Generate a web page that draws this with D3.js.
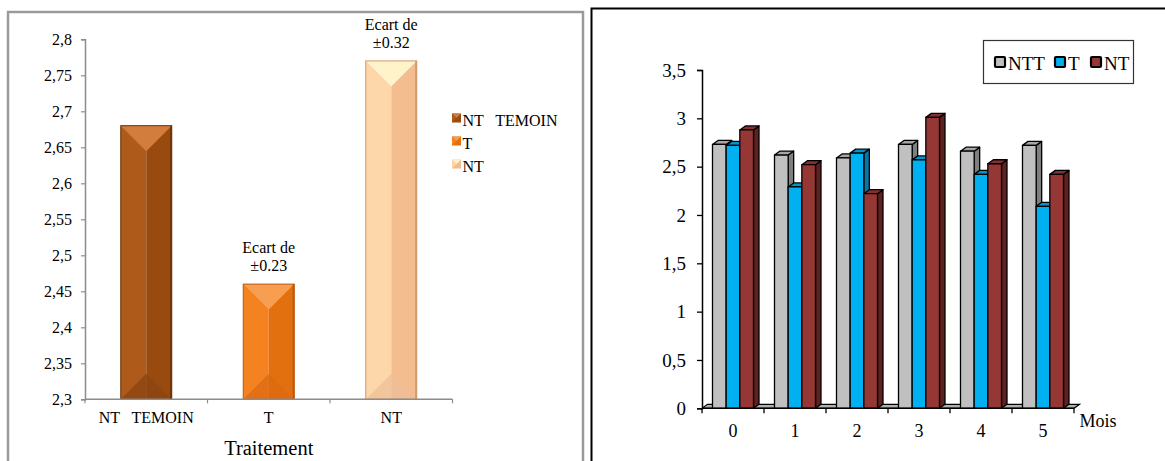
<!DOCTYPE html>
<html>
<head>
<meta charset="utf-8">
<script src="https://cdn.jsdelivr.net/npm/d3@7"></script>
<style>
  html, body { margin: 0; padding: 0; background: #fff; }
  svg { display: block; }
  svg text { font-family: "Liberation Serif", "Times New Roman", serif; fill: #000; }
</style>
</head>
<body>
<svg id="chart" width="1165" height="461"></svg>
<script>
// ---- Left panel: mean value per treatment ----
const treatLabels = ["NT   TEMOIN", "T", "NT"];
const treatValues = [2.68, 2.46, 2.77];
const treatDeviation = [null, "±0.23", "±0.32"];
const treatTicks = [2.3, 2.35, 2.4, 2.45, 2.5, 2.55, 2.6, 2.65, 2.7, 2.75, 2.8];

// ---- Right panel: monthly values for three treatments ----
const months = ["0", "1", "2", "3", "4", "5"];
const seriesNames = ["NTT", "T", "NT"];
const nttValues = [2.73, 2.62, 2.59, 2.73, 2.66, 2.72];
const tValues = [2.72, 2.29, 2.64, 2.57, 2.42, 2.09];
const ntValues = [2.88, 2.52, 2.22, 3.01, 2.53, 2.42];
const monthTicks = [0, 0.5, 1, 1.5, 2, 2.5, 3, 3.5];

const frLocale = d3.formatLocale({ decimal: ",", thousands: " ", grouping: [3], currency: ["", ""] });
const fmt = frLocale.format("~g");

const svg = d3.select("#chart");

// Panel frames
svg.append("rect").attr("x", 8).attr("y", 12).attr("width", 575).attr("height", 470)
  .attr("fill", "none").attr("stroke", "#9a9a9a").attr("stroke-width", 2.5);
svg.append("rect").attr("x", 591.5).attr("y", 8.5).attr("width", 600).attr("height", 480)
  .attr("fill", "none").attr("stroke", "#000").attr("stroke-width", 2);

// ================= LEFT PANEL =================
const L = svg.append("g");
const yL = d3.scaleLinear().domain([2.3, 2.8]).range([399.3, 39.3]);
const pIn = 0.5837;
const xL = d3.scaleBand().domain(treatLabels).range([85, 452.5]).paddingInner(pIn).paddingOuter(pIn / 2);

const treatStyles = [
  { left: "#ad5a1a", right: "#984a0f", top: "#d27c3d", bottom: "#8c4410", edge: "#6b3308" },
  { left: "#f58220", right: "#e3700f", top: "#f89e50", bottom: "#dd6a12", edge: "#b65a12" },
  { left: "#fdd6aa", right: "#f3bd8f", top: "#fff3c9", bottom: "#eebf98", edge: "#cf9a6c" }
];

function bevelBar(g, x0, x1, yTop, yBot, st) {
  const xm = (x0 + x1) / 2, b = (x1 - x0) / 2;
  g.append("rect").attr("x", x0).attr("y", yTop).attr("width", xm - x0).attr("height", yBot - yTop).attr("fill", st.left);
  g.append("rect").attr("x", xm).attr("y", yTop).attr("width", x1 - xm).attr("height", yBot - yTop).attr("fill", st.right);
  g.append("polygon").attr("points", [[x0, yTop], [x1, yTop], [xm, yTop + b]].join(" ")).attr("fill", st.top);
  g.append("polygon").attr("points", [[x0, yBot], [x1, yBot], [xm, yBot - b]].join(" ")).attr("fill", st.bottom).attr("opacity", 0.75);
  g.append("rect").attr("x", x0).attr("y", yTop).attr("width", x1 - x0).attr("height", yBot - yTop)
    .attr("fill", "none").attr("stroke", st.edge).attr("stroke-width", 1);
  g.append("line").attr("x1", x1 - 0.8).attr("x2", x1 - 0.8).attr("y1", yTop).attr("y2", yBot)
    .attr("stroke", st.edge).attr("stroke-width", 1.6);
}

treatLabels.forEach((lab, i) => {
  const x0 = xL(lab), x1 = x0 + xL.bandwidth();
  bevelBar(L.append("g"), x0, x1, yL(treatValues[i]), yL(2.3), treatStyles[i]);
  if (treatDeviation[i]) {
    const cx = x0 + xL.bandwidth() / 2;
    const yTop = yL(treatValues[i]);
    L.append("text").attr("x", cx).attr("y", yTop - 31).attr("text-anchor", "middle")
      .attr("font-size", 16).text("Ecart de");
    L.append("text").attr("x", cx).attr("y", yTop - 13).attr("text-anchor", "middle")
      .attr("font-size", 16).text(treatDeviation[i]);
  }
});

// Y axis
const yAxisL = L.append("g").attr("transform", "translate(85,0)")
  .call(d3.axisLeft(yL).tickValues(treatTicks).tickFormat(fmt).tickSize(4).tickPadding(9));
yAxisL.select(".domain").attr("stroke", "#8c8c8c").attr("stroke-width", 1.5);
yAxisL.selectAll(".tick line").attr("stroke", "#8c8c8c").attr("stroke-width", 1.2);
yAxisL.selectAll(".tick text").attr("font-size", 16);

// X axis
L.append("line").attr("x1", 85).attr("x2", 452.5).attr("y1", yL(2.3)).attr("y2", yL(2.3))
  .attr("stroke", "#8c8c8c").attr("stroke-width", 1.5);
d3.range(treatLabels.length + 1).forEach(k => {
  const x = 85 + k * xL.step();
  L.append("line").attr("x1", x).attr("x2", x).attr("y1", yL(2.3)).attr("y2", yL(2.3) + 4)
    .attr("stroke", "#8c8c8c").attr("stroke-width", 1.2);
});
treatLabels.forEach(lab => {
  L.append("text").attr("x", xL(lab) + xL.bandwidth() / 2).attr("y", 423)
    .attr("text-anchor", "middle").attr("font-size", 16).style("white-space", "pre").text(lab);
});
L.append("text").attr("x", 268.75).attr("y", 455).attr("text-anchor", "middle")
  .attr("font-size", 20.5).text("Traitement");

// Legend
treatLabels.forEach((lab, i) => {
  const y = 113.5 + i * 23;
  const st = treatStyles[i];
  const g = L.append("g");
  g.append("rect").attr("x", 452).attr("y", y).attr("width", 9).attr("height", 9).attr("fill", st.right);
  g.append("polygon").attr("points", [[452, y], [461, y], [456.5, y + 4.5]].join(" ")).attr("fill", st.top);
  g.append("polygon").attr("points", [[452, y], [456.5, y + 4.5], [452, y + 9]].join(" ")).attr("fill", st.left);
  L.append("text").attr("x", 462.5).attr("y", y + 12.5).attr("font-size", 16)
    .style("white-space", "pre").text(lab);
});

// ================= RIGHT PANEL =================
const R = svg.append("g");
const yR = d3.scaleLinear().domain([0, 3.5]).range([408.3, 70]);
const xR = d3.scaleBand().domain(months).range([702, 1074]);
const xSub = d3.scaleBand().domain(seriesNames).range([10.5, 51.5]);
const dx = 5.5, dy = 4;
const seriesValues = [nttValues, tValues, ntValues];
const seriesColors = [
  { front: "#c0c0c0", top: "#a6a6a6", side: "#7f7f7f" },
  { front: "#00b0f0", top: "#0096cc", side: "#007aa8" },
  { front: "#953735", top: "#84302e", side: "#5e2120" }
];
const y0 = yR(0);

// Floor
R.append("polygon")
  .attr("points", [[702, y0], [1074, y0], [1074 + dx, y0 - dy], [702 + dx, y0 - dy]].join(" "))
  .attr("fill", "#b0b0b0").attr("stroke", "#000").attr("stroke-width", 1.2);

months.forEach((m, i) => {
  seriesNames.forEach((s, j) => {
    const v = seriesValues[j][i];
    const c = seriesColors[j];
    const x = xR(m) + xSub(s), w = xSub.bandwidth(), y = yR(v);
    const g = R.append("g").attr("stroke", "#000").attr("stroke-width", 1.3).attr("stroke-linejoin", "round");
    g.append("polygon").attr("points", [[x + w, y], [x + w + dx, y - dy], [x + w + dx, y0 - dy], [x + w, y0]].join(" "))
      .attr("fill", c.side);
    g.append("polygon").attr("points", [[x, y], [x + dx, y - dy], [x + w + dx, y - dy], [x + w, y]].join(" "))
      .attr("fill", c.top);
    g.append("rect").attr("x", x).attr("y", y).attr("width", w).attr("height", y0 - y).attr("fill", c.front);
  });
});

// Axes
const yAxisR = R.append("g").attr("transform", "translate(702,0)")
  .call(d3.axisLeft(yR).tickValues(monthTicks).tickFormat(fmt).tickSize(5).tickPadding(11));
yAxisR.select(".domain").attr("stroke", "#000").attr("stroke-width", 1.5);
yAxisR.selectAll(".tick line").attr("stroke", "#000").attr("stroke-width", 1.3);
yAxisR.selectAll(".tick text").attr("font-size", 19);

R.append("line").attr("x1", 702).attr("x2", 1074).attr("y1", y0).attr("y2", y0)
  .attr("stroke", "#000").attr("stroke-width", 1.5);
d3.range(months.length + 1).forEach(k => {
  const x = 702 + k * xR.step();
  R.append("line").attr("x1", x).attr("x2", x).attr("y1", y0).attr("y2", y0 + 5)
    .attr("stroke", "#000").attr("stroke-width", 1.3);
});
months.forEach(m => {
  R.append("text").attr("x", xR(m) + xR.bandwidth() / 2).attr("y", 436.5)
    .attr("text-anchor", "middle").attr("font-size", 18).text(m);
});
R.append("text").attr("x", 1079.5).attr("y", 426.5).attr("font-size", 18).text("Mois");

// Legend
R.append("rect").attr("x", 983.5).attr("y", 40.5).attr("width", 150).attr("height", 43)
  .attr("fill", "#fff").attr("stroke", "#333").attr("stroke-width", 1.2);
const legX = [995, 1055, 1091];
seriesNames.forEach((s, j) => {
  R.append("rect").attr("x", legX[j]).attr("y", 57).attr("width", 10).attr("height", 10)
    .attr("fill", seriesColors[j].front).attr("stroke", "#000").attr("stroke-width", 2.2).attr("rx", 1);
  R.append("text").attr("x", legX[j] + 13).attr("y", 69.5).attr("font-size", 19).text(s);
});
</script>
</body>
</html>
